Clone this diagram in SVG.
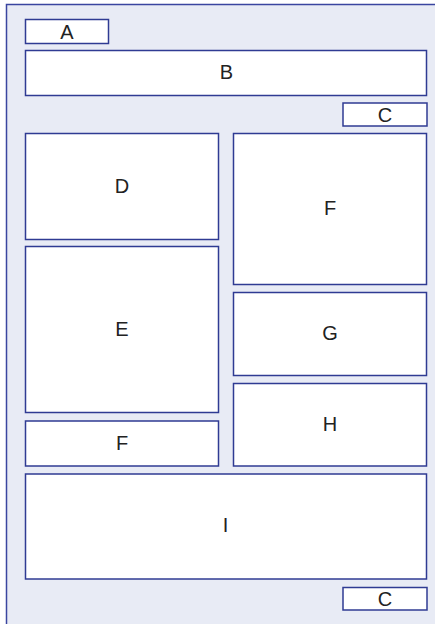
<svg xmlns="http://www.w3.org/2000/svg" width="435" height="624" viewBox="0 0 435 624">
<style>
.n{fill:#ffffff;stroke:#2f3b93;stroke-width:1.5}
.t{font-family:"Liberation Sans",Arial,sans-serif;font-size:20px;fill:#222;text-anchor:middle}
</style>
<rect x="6.5" y="4.5" width="440" height="640" fill="#e8ebf5" stroke="#3a45a0" stroke-width="1.5"/>
<g id="A"><rect class="n" x="25.5" y="19.5" width="83" height="24"/><text class="t" x="67" y="39">A</text></g>
<g id="B"><rect class="n" x="25.5" y="50.5" width="401" height="45"/><text class="t" x="226.5" y="79">B</text></g>
<g id="C1"><rect class="n" x="343" y="103" width="84" height="23"/><text class="t" x="385" y="121.7">C</text></g>
<g id="D"><rect class="n" x="25.5" y="133.5" width="193" height="106"/><text class="t" x="122" y="193">D</text></g>
<g id="F1"><rect class="n" x="233.5" y="133.5" width="193" height="151"/><text class="t" x="330" y="215.4">F</text></g>
<g id="E"><rect class="n" x="25.5" y="246.5" width="193" height="166"/><text class="t" x="122" y="336">E</text></g>
<g id="G"><rect class="n" x="233.5" y="292.5" width="193" height="83"/><text class="t" x="330" y="340.4">G</text></g>
<g id="F2"><rect class="n" x="25.5" y="421" width="193" height="45"/><text class="t" x="122" y="450.2">F</text></g>
<g id="H"><rect class="n" x="233.5" y="383.5" width="193" height="82.5"/><text class="t" x="330" y="431">H</text></g>
<g id="I"><rect class="n" x="25.5" y="474" width="401" height="105"/><text class="t" x="225.5" y="532">I</text></g>
<g id="C2"><rect class="n" x="343" y="587.5" width="84" height="22.5"/><text class="t" x="385" y="605.5">C</text></g>
<g id="connectors"></g>
</svg>
